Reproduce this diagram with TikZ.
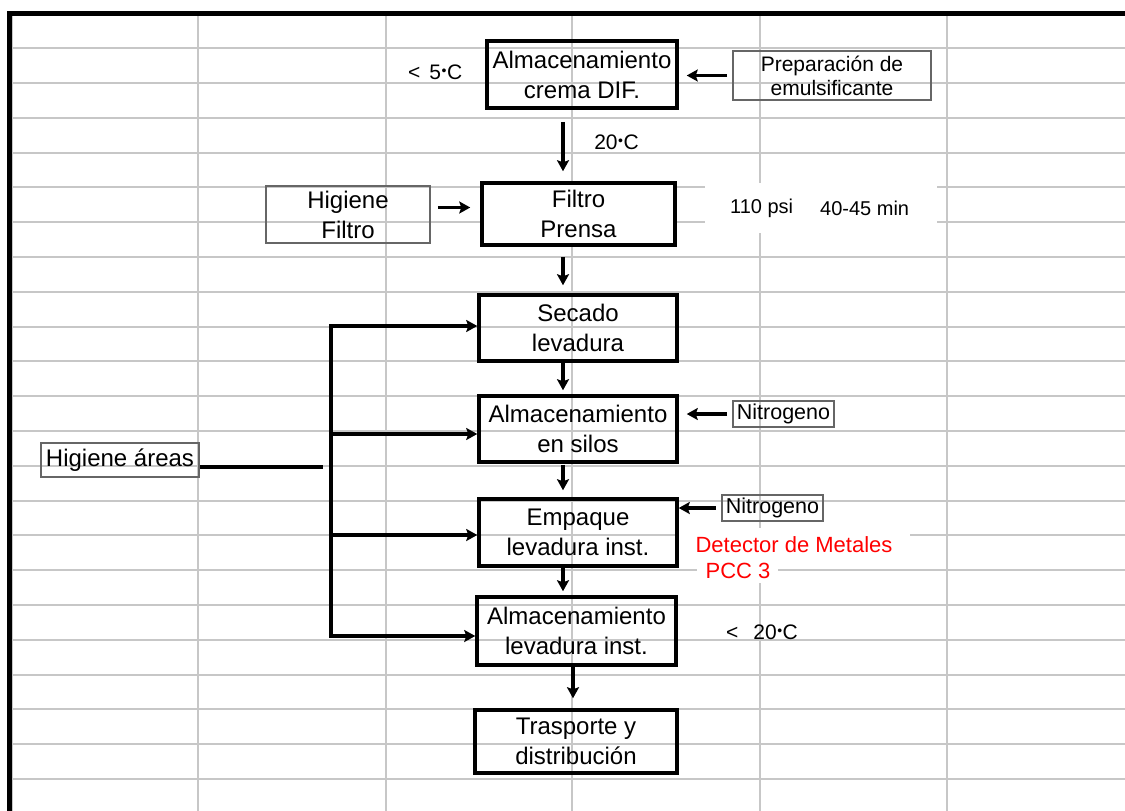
\documentclass[tikz,border=0pt]{standalone}
\usepackage{fontspec}
\setmainfont{Liberation Sans}
\usetikzlibrary{arrows.meta,calc}

% small raised dot used as the degree mark
\newcommand\dg{\kern0.5pt\raisebox{4pt}{\fontsize{14}{14}\selectfont •}\kern0.5pt}

\begin{document}
\begin{tikzpicture}[x=1pt,y=-1pt,
  grid/.style={draw=black!22, line width=2pt},
  box/.style={draw, line width=3.5pt, inner sep=0pt, align=center,
    font=\fontsize{24}{30}\selectfont},
  thinbox/.style={draw=black!60, line width=1.6pt, inner sep=0pt, align=center},
  lbl/.style={inner sep=0pt, font=\fontsize{21}{24}\selectfont},
  arr/.style={line width=3.5pt, -{Stealth[length=11pt,width=12pt,inset=2pt]}},
  link/.style={line width=3.5pt}]

\useasboundingbox (0,0) rectangle (1125,811);
\fill[white] (0,0) rectangle (1125,811);

% spreadsheet grid
\foreach \x in {12,198,386,572,760,947}
  \draw[grid] (\x,13) -- (\x,811);
\foreach \k in {1,...,22}
  \draw[grid] (12,{13.3+34.8*\k}) -- (1125,{13.3+34.8*\k});

% white cell backgrounds behind some labels
\fill[white] (705,183) rectangle (937,233);
\fill[white] (675,528) rectangle (910,565);
\fill[white] (697,560) rectangle (778,583);

% sheet frame
\draw[line width=5pt] (9,811) -- (9,13.3) -- (1125,13.3);

% process boxes
\node[box, minimum width=190pt, minimum height=67pt] (b1) at (582,74.5) {Almacenamiento\\crema DIF.};
\node[box, fill=white, minimum width=193pt, minimum height=62pt] (b2) at (578.5,214) {Filtro\\Prensa};
\node[box, minimum width=198pt, minimum height=66pt] (b3) at (578,328) {Secado\\levadura};
\node[box, minimum width=198pt, minimum height=66pt] (b4) at (578,429) {Almacenamiento\\en silos};
\node[box, minimum width=198pt, minimum height=67pt] (b5) at (578,532.5) {Empaque\\levadura inst.};
\node[box, minimum width=199pt, minimum height=68pt] (b6) at (576.5,631) {Almacenamiento\\levadura inst.};
\node[box, minimum width=202pt, minimum height=63pt] (b7) at (576,741.5) {Trasporte y\\distribución};

% side inputs
\node[thinbox, minimum width=198pt, minimum height=49pt, font=\fontsize{21}{24}\selectfont] (prep) at (832,75.5) {Preparación de\\emulsificante};
\node[thinbox, minimum width=164pt, minimum height=57pt, font=\fontsize{24}{30}\selectfont] (hf) at (348,214.5) {Higiene\\Filtro};
\node[thinbox, minimum width=101pt, minimum height=26pt, font=\fontsize{21.5}{24}\selectfont] (n1) at (783.5,414) {Nitrogeno};
\node[thinbox, minimum width=101pt, minimum height=26pt, font=\fontsize{21.5}{24}\selectfont] (n2) at (772.5,508) {Nitrogeno};
\node[thinbox, minimum width=158pt, minimum height=34pt, font=\fontsize{24}{30}\selectfont] (ha) at (120,460) {Higiene áreas};

% conditions
\node[lbl, anchor=west] (t5) at (408,72) {<\hspace{9pt}5\dg C};
\node[lbl] (t20) at (616.5,142) {20\dg C};
\node[lbl, font=\fontsize{20}{24}\selectfont, anchor=west] (psi) at (730,208) {110 psi};
\node[lbl, font=\fontsize{20}{24}\selectfont, anchor=west] (min) at (820,208) {40-45 min};
\node[lbl, text=red, font=\fontsize{22}{24}\selectfont] (det) at (794,545) {Detector de Metales};
\node[lbl, text=red, font=\fontsize{22}{24}\selectfont] (pcc) at (738,571) {PCC 3};
\node[lbl, anchor=west] (t20b) at (726,632) {<\hspace{15pt}20\dg C};

% main flow
\coordinate (col) at (563,0);
\coordinate (col2) at (573,0);
\draw[arr, shorten <=12pt, shorten >=10pt] (b1.south -| col) -- (b2.north -| col);
\draw[arr, shorten <=10pt, shorten >=8pt] (b2.south -| col) -- (b3.north -| col);
\draw[arr, shorten >=4pt] (b3.south -| col) -- (b4.north -| col);
\draw[arr, shorten <=1pt, shorten >=7pt] (b4.south -| col) -- (b5.north -| col);
\draw[arr, shorten >=4pt] (b5.south -| col) -- (b6.north -| col);
\draw[arr, shorten >=10pt] (b6.south -| col2) -- (b7.north -| col2);

% side inputs into the flow
\draw[arr, shorten <=5pt, shorten >=8pt] (prep.west) -- (prep.west -| b1.east);
\draw[arr, shorten <=7pt, shorten >=10pt] ([yshift=7pt]hf.east) -- ([yshift=7pt]hf.east -| b2.west);
\draw[arr, shorten <=5pt, shorten >=8pt] (n1.west) -- (n1.west -| b4.east);
\draw[arr, shorten <=5pt] (n2.west) -- (n2.west -| b5.east);

% hygiene bus
\coordinate (j1) at (331,326);
\coordinate (j2) at (331,434);
\coordinate (j3) at (331,535);
\coordinate (j4) at (331,636);
\coordinate (hend) at (323,467);
\draw[link] (ha.east |- hend) -- (hend);
\draw[arr] (j4) -- (j1) -- (j1 -| b3.west);
\draw[arr] (j1) -- (j4) -- (j4 -| b6.west);
\draw[arr] (j2) -- (j2 -| b4.west);
\draw[arr] (j3) -- (j3 -| b5.west);
\end{tikzpicture}
\end{document}
